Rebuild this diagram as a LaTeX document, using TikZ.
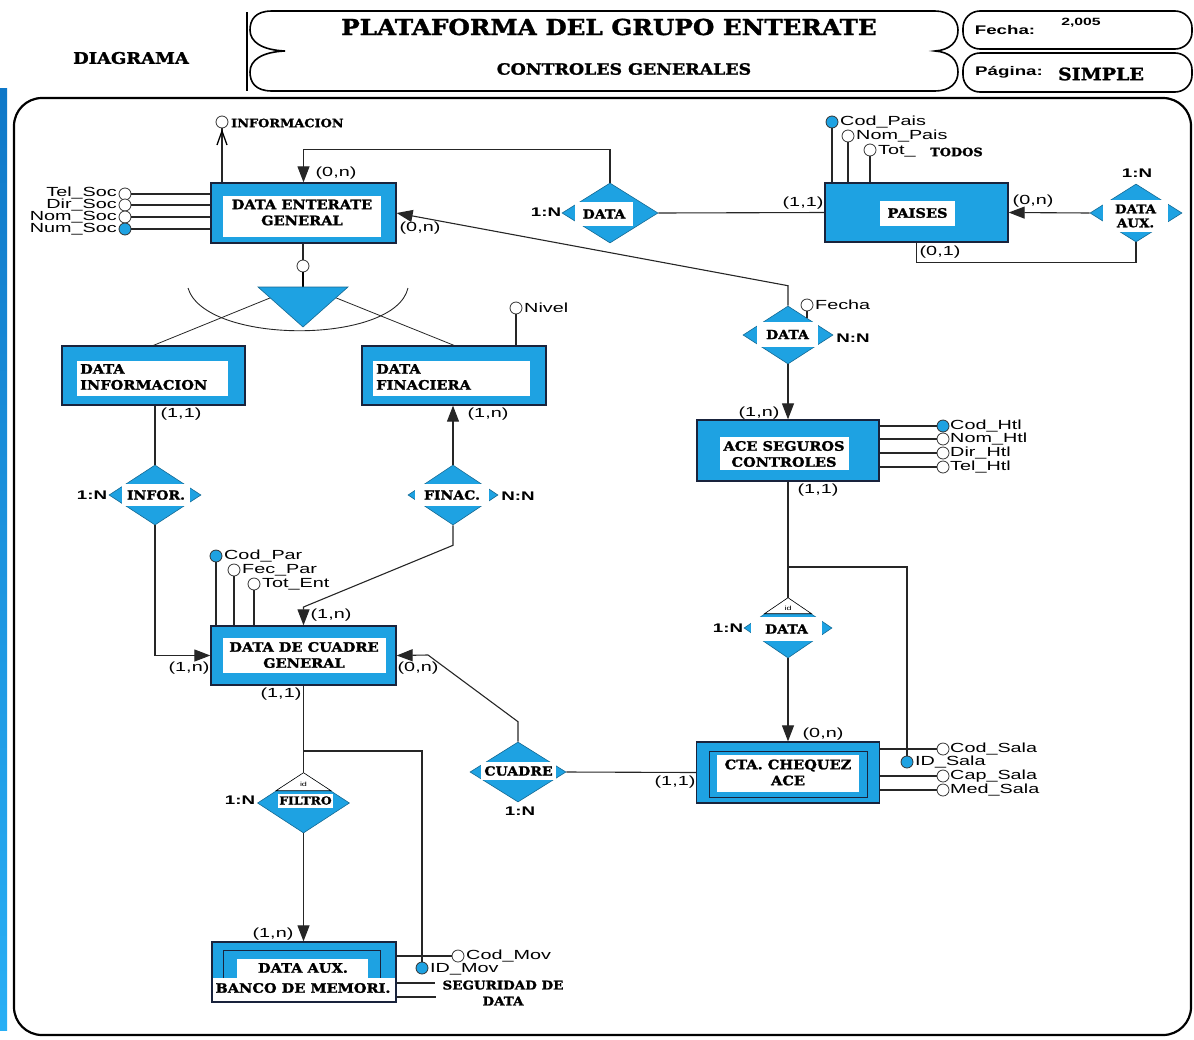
\documentclass[tikz,border=0pt]{standalone}
\usepackage{fontspec}
\setmainfont{Liberation Sans}
\newfontfamily\attrf[FakeStretch=1.5]{Liberation Sans}
\newfontfamily\slab[FakeStretch=1.12,FakeBold=1.6]{DejaVu Serif}
\usetikzlibrary{shapes.geometric,arrows.meta,calc}
\definecolor{erblue}{RGB}{30,162,226}
\definecolor{edgec}{RGB}{25,35,60}
\definecolor{barA}{RGB}{15,120,200}
\definecolor{barB}{RGB}{40,175,245}
\tikzset{
  ent/.style={draw=edgec, line width=1.3pt, fill=erblue, inner sep=0pt},
  wbox/.style={fill=white, inner sep=0pt},
  etext/.style={font=\slab\bfseries\fontsize{13}{16}\selectfont, inner sep=0pt, align=center},
  rtext/.style={fill=white, inner sep=0pt, font=\slab\bfseries\fontsize{12.5}{14}\selectfont, align=center},
  rel/.style={diamond, fill=erblue, draw=erblue!65!black, line width=0.6pt, inner sep=0pt},
  att/.style={circle, draw=black!80, fill=white, minimum size=12pt, inner sep=0pt, line width=0.8pt},
  katt/.style={att, fill=erblue},
  alab/.style={font=\attrf\fontsize{13.2}{14}\selectfont, inner sep=0pt},
  rlab/.style={font=\attrf\bfseries\fontsize{12.5}{14}\selectfont, inner sep=0pt},
  conn/.style={line width=1.1pt, draw=black!85},
  arr/.style={conn, -{Triangle[length=16pt,width=12pt]}},
  hdr/.style={line width=1.6pt, draw=black},
  idtri/.style={fill=white, draw=black, line width=0.6pt},
}
\begin{document}
\begin{tikzpicture}[x=1pt,y=-1pt]
\useasboundingbox (0,0) rectangle (1194,1039);
% ---------- header ----------
\node[font=\slab\bfseries\fontsize{16}{18}\selectfont] (diag) at (131,58) {DIAGRAMA};
\draw[hdr] (272,11) -- (935,11) .. controls (950,11) and (958,20) .. (958,30)
  .. controls (958,42) and (950,50) .. (935,51) .. controls (950,52) and (958,60) .. (958,72)
  .. controls (958,83) and (950,91) .. (935,91) -- (272,91)
  .. controls (255,91) and (250,82) .. (250,72) .. controls (250,60) and (262,52) .. (285,51)
  .. controls (262,50) and (250,42) .. (250,30) .. controls (250,20) and (255,11) .. (272,11) -- cycle;
\draw[line width=2pt] (247,12) -- (247,91);
\node[font=\slab\bfseries\fontsize{22}{24}\selectfont] (title) at (609,27) {PLATAFORMA DEL GRUPO ENTERATE};
\node[font=\slab\bfseries\fontsize{15.5}{18}\selectfont] (sub) at (624,69) {CONTROLES GENERALES};
\draw[hdr, rounded corners=17] (963,11) rectangle (1192,49);
\draw[hdr, rounded corners=17] (963,53) rectangle (1192,92);
\node[font=\attrf\bfseries\fontsize{12.5}{14}\selectfont] (fecha) at (1005,30) {Fecha:};
\node[font=\attrf\bfseries\fontsize{10.5}{12}\selectfont] (anio) at (1081,23) {2,005};
\node[font=\attrf\bfseries\fontsize{12.5}{14}\selectfont] (pag) at (1009,72) {Página:};
\node[font=\slab\bfseries\fontsize{17}{19}\selectfont] (simple) at (1101,74) {SIMPLE};
% ---------- frame ----------
\shade[top color=barA, bottom color=barB] (0,88) rectangle (7,1030);
\draw[line width=2.2pt, rounded corners=28] (14,98) rectangle (1191,1035);

% ---------- entities ----------
\node[ent, minimum width=185, minimum height=60] (E1) at (303.5,213) {};
\node[wbox, minimum width=158, minimum height=41] (E1w) at (302,216.5) {};
\node[etext] (E1t) at (302,212.5) {DATA ENTERATE\\GENERAL};
\node[ent, minimum width=183, minimum height=59] (E2) at (916.5,212.5) {};
\node[wbox, minimum width=75, minimum height=25] (E2w) at (917.5,213.5) {};
\node[etext] (E2t) at (917.5,213) {PAISES};
\node[ent, minimum width=183, minimum height=59] (E3) at (153.5,375.5) {};
\node[wbox, minimum width=151, minimum height=35] (E3w) at (152.5,378.5) {};
\node[etext, align=left, anchor=west] (E3t) at (80,377) {DATA\\INFORMACION};
\node[ent, minimum width=184, minimum height=59] (E4) at (454,375.5) {};
\node[wbox, minimum width=157, minimum height=35] (E4w) at (451.5,378.5) {};
\node[etext, align=left, anchor=west] (E4t) at (376,377) {DATA\\FINACIERA};
\node[ent, minimum width=182, minimum height=61] (E5) at (788,450.5) {};
\node[wbox, minimum width=129, minimum height=33] (E5w) at (784.5,453.5) {};
\node[etext] (E5t) at (784,454) {ACE SEGUROS\\CONTROLES};
\node[ent, minimum width=185, minimum height=59] (E6) at (303.5,655.5) {};
\node[wbox, minimum width=163, minimum height=35] (E6w) at (304.5,655.5) {};
\node[etext] (E6t) at (304,655) {DATA DE CUADRE\\GENERAL};
\node[ent, minimum width=183, minimum height=61] (E7) at (788,772.5) {};
\node[ent, line width=1pt, minimum width=158, minimum height=46] (E7i) at (788,774.5) {};
\node[wbox, minimum width=142, minimum height=37] (E7w) at (788,773.5) {};
\node[etext] (E7t) at (788,772.5) {CTA. CHEQUEZ\\ACE};
\node[fill=white, inner sep=0pt, minimum width=184, minimum height=60] (E8) at (304,972) {};
\node[fill=erblue, inner sep=0pt, minimum width=184, minimum height=36] (E8b) at (304,960) {};
\draw[edgec, line width=1pt] (223,978) -- (223,950) -- (380,950) -- (380,978);
\node[wbox, minimum width=131, minimum height=19] (E8w) at (302.5,968.5) {};
\node[draw=edgec, line width=1.3pt, inner sep=0pt, minimum width=184, minimum height=60] (E8o) at (304,972) {};
\node[etext] (E8t1) at (303,968) {DATA AUX.};
\node[etext] (E8t2) at (303,988) {BANCO DE MEMORI.};

% ---------- relationships ----------
\node[rel, minimum width=96, minimum height=60] (R1) at (610,213) {};
\node[rtext, minimum width=58, minimum height=24] (R1l) at (604,214) {DATA};
\node[rel, minimum width=92, minimum height=58] (R2) at (1136,213) {};
\node[rtext, minimum width=65, minimum height=32, font=\slab\bfseries\fontsize{12}{14}\selectfont] (R2l) at (1135.5,216) {DATA\\AUX.};
\node[rel, minimum width=90, minimum height=58] (R3) at (788,335) {};
\node[rtext, minimum width=61, minimum height=25] (R3l) at (787.5,334.5) {DATA};
\node[rel, minimum width=92, minimum height=60] (R4) at (155,495) {};
\node[rtext, minimum width=68, minimum height=22] (R4l) at (156,495) {INFOR.};
\node[rel, minimum width=90, minimum height=60] (R5) at (453,495) {};
\node[rtext, minimum width=74, minimum height=22] (R5l) at (452,495) {FINAC.};
\node[rel, minimum width=88, minimum height=60] (R6) at (788,628) {};
\draw[idtri] (R6.north) -- ($(R6.north)+(-23.5,16)$) -- ($(R6.north)+(23.5,16)$) -- cycle;
\node[font=\attrf\fontsize{6}{7}\selectfont, inner sep=0pt] (R6id) at (788,608) {id};
\node[rtext, minimum width=71, minimum height=24] (R6l) at (786.5,629) {DATA};
\node[rel, minimum width=96, minimum height=60] (R7) at (518,772) {};
\node[rtext, minimum width=75, minimum height=18] (R7l) at (518.5,771) {CUADRE};
\node[rel, minimum width=92, minimum height=60] (R8) at (303.5,803) {};
\draw[idtri] (R8.north) -- ($(R8.north)+(-27.5,18)$) -- ($(R8.north)+(27.5,18)$) -- cycle;
\node[font=\attrf\fontsize{6}{7}\selectfont, inner sep=0pt] (R8id) at (303.5,784) {id};
\node[rtext, minimum width=55, minimum height=14, font=\slab\bfseries\fontsize{11}{12}\selectfont] (R8l) at (305.5,800.5) {FILTRO};

\node[rlab] (c1) at (546,212) {1:N};
\node[rlab] (c2) at (1137,173) {1:N};
\node[rlab] (c3) at (853,338) {N:N};
\node[rlab] (c4) at (92,495) {1:N};
\node[rlab] (c5) at (518,496) {N:N};
\node[rlab] (c6) at (728,628) {1:N};
\node[rlab] (c7) at (520,811) {1:N};
\node[rlab] (c8) at (240,800) {1:N};

% ---------- specialization ----------
\node[att] (sc) at (303,266) {};
\coordinate (tritop) at (303,287);
\draw[conn] (E1.south -| sc) -- (sc);
\draw[line width=2.2pt] (sc.south) -- (tritop);
\draw[conn, line width=0.8pt] (292,289) -- (E3.north);
\draw[conn, line width=0.8pt] (314,289) -- (E4.north);
\fill[erblue, draw=erblue!65!black, line width=0.6pt] (258,287) -- (348,287) -- (303,327) -- cycle;
\draw[conn, line width=0.9pt] (188,288) .. controls (205,345) and (395,345) .. (408,288);

% ---------- connectors ----------
\draw[arr] (R1.north) -- ++(0,-33) -| (E1.north);
\draw[conn] (R1.east) -- (E2.west);
\draw[arr] (R2.west) -- (E2.east);
\draw[conn] (R2.south) -- ++(0,20) -| (E2.south);
\draw[arr] (R3.north) -- ++(0,-20) -- (E1.east);
\draw[arr] (R3.south) -- (E5.north);
\draw[conn] (E5.south) -- (R6.north);
\draw[arr] (R6.south) -- (E7.north);
\draw[conn] (E7.west) -- (R7.east);
\draw[arr] (R7.north) -- ++(0,-20) -- (428,655) -- (E6.east);
\draw[arr] (R5.north) -- (E4.south -| R5.north);
\draw[arr] (R5.south) -- ++(0,20) -- (303.5,607) -- (E6.north);
\draw[conn] (E3.south -| R4.north) -- (R4.north);
\draw[arr] (R4.south) |- (E6.west);
\draw[conn] (E6.south -| R8.north) -- (R8.north);
\draw[arr] (R8.south) -- (E8o.north -| R8.south);

% ---------- cardinalities ----------
\node[alab] (k1) at (336,173) {(0,n)};
\node[alab] (k2) at (420,228) {(0,n)};
\node[alab] (k3) at (803,203) {(1,1)};
\node[alab] (k4) at (1033,201) {(0,n)};
\node[alab] (k5) at (940,252) {(0,1)};
\node[alab] (k6) at (759,413) {(1,n)};
\node[alab] (k7) at (818,490) {(1,1)};
\node[alab] (k8) at (823,734) {(0,n)};
\node[alab] (k9) at (675,782) {(1,1)};
\node[alab] (k10) at (181,414) {(1,1)};
\node[alab] (k11) at (488,414) {(1,n)};
\node[alab] (k12) at (331,615) {(1,n)};
\node[alab] (k13) at (189,668) {(1,n)};
\node[alab] (k14) at (418,668) {(0,n)};
\node[alab] (k15) at (281,694) {(1,1)};
\node[alab] (k16) at (273,934) {(1,n)};

% ---------- attributes ----------
\node[att] (info) at (222,122) {};
\draw[conn] (E1.north -| info) -- (info);
\draw[line width=1.3pt] (217,145) -- (222,131) -- (227,145);
\node[font=\slab\bfseries\fontsize{11.5}{13}\selectfont, anchor=west, inner sep=0pt] (infot) at (231,123) {INFORMACION};
\foreach \n/\y/\s in {tel/194/att, dir/205/att, nom/217/att, num/229/katt}{
  \node[\s] (\n) at (125,\y) {};
  \draw[conn] (\n.east) -- (\n -| E1.west);
}
\node[alab, anchor=east] (telt) at (117,193) {Tel\_Soc};
\node[alab, anchor=east] (dirt) at (117,205) {Dir\_Soc};
\node[alab, anchor=east] (nomt) at (117,217) {Nom\_Soc};
\node[alab, anchor=east] (numt) at (117,229) {Num\_Soc};
\node[katt] (pa1) at (832,122) {};
\node[att] (pa2) at (848,136) {};
\node[att] (pa3) at (870,150) {};
\foreach \n in {pa1,pa2,pa3}{ \draw[conn] (\n) -- (\n |- E2.north); }
\node[alab, anchor=west] (pa1t) at (840,122) {Cod\_Pais};
\node[alab, anchor=west] (pa2t) at (856,136) {Nom\_Pais};
\node[alab, anchor=west] (pa3t) at (878,151) {Tot\_};
\node[font=\slab\bfseries\fontsize{11.5}{13}\selectfont, anchor=west, inner sep=0pt] (todos) at (930,152) {TODOS};
\node[att] (niv) at (516,308) {};
\draw[conn] (niv) -- (niv |- E4.north);
\node[alab, anchor=west] (nivt) at (524,308) {Nivel};
\node[att] (fch) at (807,305) {};
\coordinate (fche) at (807,318);
\draw[conn] (fch) -- (fche);
\node[alab, anchor=west] (fcht) at (815,305) {Fecha};
\foreach \n/\y/\s/\t in {h1/426/katt/Cod\_Htl, h2/439/att/Nom\_Htl, h3/453/att/Dir\_Htl, h4/467/att/Tel\_Htl}{
  \node[\s] (\n) at (943,\y) {};
  \draw[conn] (\n -| E5.east) -- (\n.west);
  \node[alab, anchor=west] (\n t) at (950,\y) {\t};
}
\foreach \n/\y/\t in {s1/749/Cod\_Sala, s3/776/Cap\_Sala, s4/790/Med\_Sala}{
  \node[att] (\n) at (943,\y) {};
  \draw[conn] (\n -| E7.east) -- (\n.west);
  \node[alab, anchor=west] (\n t) at (950,\y) {\t};
}
\node[katt] (idsala) at (907,762) {};
\node[alab, anchor=west] (idsalat) at (915,762) {ID\_Sala};
\coordinate (b1) at (788,567);
\draw[conn] (b1) -| (idsala.north);
\node[katt] (cp1) at (216,556) {};
\node[att] (cp2) at (234,570) {};
\node[att] (cp3) at (254,584) {};
\foreach \n in {cp1,cp2,cp3}{ \draw[conn] (\n) -- (\n |- E6.north); }
\node[alab, anchor=west] (cp1t) at (224,556) {Cod\_Par};
\node[alab, anchor=west] (cp2t) at (242,570) {Fec\_Par};
\node[alab, anchor=west] (cp3t) at (262,584) {Tot\_Ent};
\node[att] (codmov) at (458,956) {};
\draw[conn] (codmov -| E8o.east) -- (codmov.west);
\node[alab, anchor=west] (codmovt) at (466,956) {Cod\_Mov};
\node[katt] (idmov) at (422,968) {};
\node[alab, anchor=west] (idmovt) at (430,969) {ID\_Mov};
\coordinate (b2) at (303.5,751);
\draw[conn] (b2) -| (idmov.north);
\coordinate (sg1) at (435,983);
\coordinate (sg2) at (436,997);
\draw[conn] (sg1 -| E8o.east) -- (sg1);
\draw[conn] (sg2 -| E8o.east) -- (sg2);
\node[font=\slab\bfseries\fontsize{12}{16}\selectfont, align=center, inner sep=0pt] (seg) at (503,993) {SEGURIDAD DE\\DATA};
\end{tikzpicture}
\end{document}
